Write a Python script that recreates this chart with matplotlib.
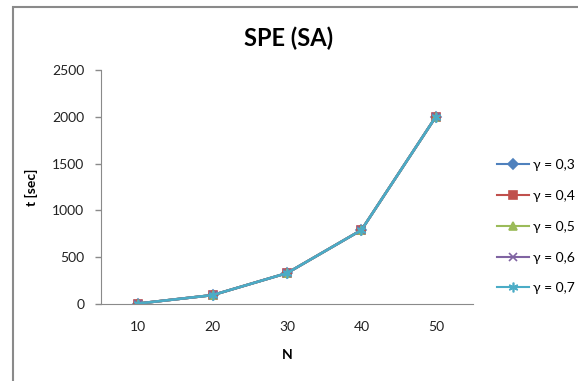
import matplotlib.pyplot as plt
from matplotlib.patches import Rectangle

plt.rcParams['font.family'] = ['Lato', 'DejaVu Sans']

n_labels = ['10', '20', '30', '40', '50']
gammas = ['γ = 0,3', 'γ = 0,4', 'γ = 0,5', 'γ = 0,6', 'γ = 0,7']
t_03 = [5, 95, 330, 790, 2000]
t_04 = [5, 95, 330, 790, 2000]
t_05 = [5, 95, 330, 790, 2000]
t_06 = [5, 95, 330, 790, 2000]
t_07 = [5, 95, 330, 790, 2000]
series = [t_03, t_04, t_05, t_06, t_07]

colors = ['#4F81BD', '#C0504D', '#9BBB59', '#8064A2', '#4BACC6']
markers = ['D', 's', '^', 'x', (6, 2, 0)]
msizes = [5, 6, 6, 6, 7]

fig = plt.figure(figsize=(5.78, 3.81), dpi=100)
fig.patches.append(Rectangle((13 / 578, -0.1), 1.2, 1 - 7 / 381 + 0.1,
                             transform=fig.transFigure, fill=False,
                             edgecolor='#8a8a8a', linewidth=1.5))
ax = fig.add_axes([101 / 578, 1 - 304 / 381, 372 / 578, 234 / 381])

x = list(range(len(n_labels)))
for vals, lab, c, m, ms in zip(series, gammas, colors, markers, msizes):
    ax.plot(x, vals, color=c, marker=m, markersize=ms, linewidth=1.8,
            markeredgecolor=c, markeredgewidth=1.2, label=lab)

ax.set_xlim(-0.5, len(n_labels) - 0.5)
ax.set_ylim(0, 2500)
ax.set_xticks(x)
ax.set_xticklabels(n_labels)
ax.set_yticks(range(0, 2501, 500))
ax.tick_params(axis='x', length=0, pad=12, labelsize=10, colors='#222222')
ax.tick_params(axis='y', length=4, width=1, color='#8a8a8a', pad=8,
               labelsize=10, labelcolor='#222222')
for s in ['top', 'right']:
    ax.spines[s].set_visible(False)
for s in ['left', 'bottom']:
    ax.spines[s].set_color('#8a8a8a')

ax.set_xlabel('N', fontsize=10, fontweight='bold', labelpad=12)
ax.set_ylabel('t [sec]', fontsize=10, fontweight='bold', labelpad=10)
fig.text(0.5, 1 - 38 / 381, 'SPE (SA)', ha='center', va='center',
         fontsize=17, fontweight='bold')

leg = ax.legend(loc='center left', bbox_to_anchor=(1.03, 0.33), frameon=False,
                fontsize=10, handlelength=2.3, labelspacing=1.35,
                handletextpad=0.3)
for h in leg.get_lines():
    h.set_linewidth(1.5)

fig.savefig('out.png', dpi=100)
